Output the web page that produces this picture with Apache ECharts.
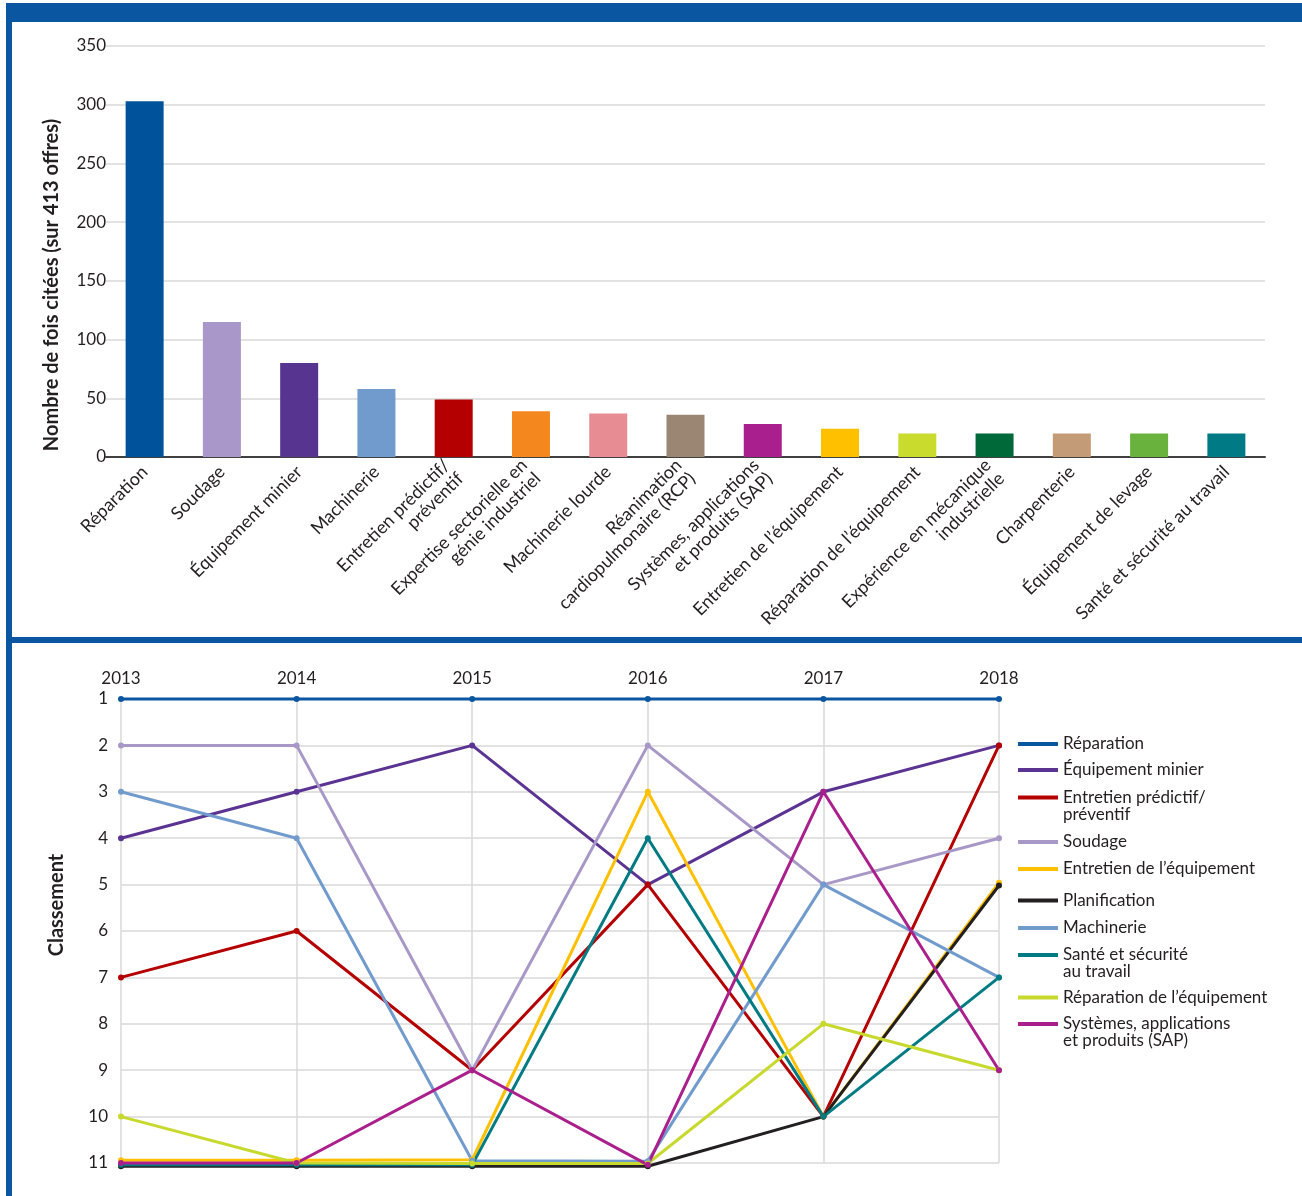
<!DOCTYPE html>
<html>
<head>
<meta charset="utf-8">
<script src="https://cdn.jsdelivr.net/npm/echarts@6/dist/echarts.min.js"></script>
<style>
  html, body { margin: 0; padding: 0; background: #ffffff; }
  #chart { width: 1302px; height: 1196px; }
</style>
</head>
<body>
<div id="chart"></div>
<script>
// Compétences les plus citées dans les offres (413 offres)
const skills = [
  'Réparation',
  'Soudage',
  'Équipement minier',
  'Machinerie',
  'Entretien prédictif/\npréventif',
  'Expertise sectorielle en\ngénie industriel',
  'Machinerie lourde',
  'Réanimation\ncardiopulmonaire (RCP)',
  'Systèmes, applications\net produits (SAP)',
  'Entretien de l’équipement',
  'Réparation de l’équipement',
  'Expérience en mécanique\nindustrielle',
  'Charpenterie',
  'Équipement de levage',
  'Santé et sécurité au travail'
];
const mentions = [303, 115, 80, 58, 49, 39, 37, 36, 28, 24, 20, 20, 20, 20, 20];
const skillColors = [
  '#00539b', '#a897c8', '#56348f', '#729bcd', '#b50000',
  '#f5871f', '#e88c94', '#9a8673', '#aa1f8e', '#ffc000',
  '#c9dc2e', '#00693a', '#c39b77', '#6ab23e', '#007b85'
];

// Classement annuel des compétences (11 = hors du palmarès)
const years = ['2013', '2014', '2015', '2016', '2017', '2018'];
const rankReparation      = [1, 1, 1, 1, 1, 1];
const rankEquipMinier     = [4, 3, 2, 5, 3, 2];
const rankEntretienPred   = [7, 6, 9, 5, 10, 2];
const rankSoudage         = [2, 2, 9, 2, 5, 4];
const rankEntretienEquip  = [10.94, 10.94, 10.93, 3, 10, 4.96];
const rankPlanification   = [11.07, 11.07, 11.07, 11.07, 10, 5.02];
const rankMachinerie      = [3, 4, 10.95, 10.96, 5, 7];
const rankSante           = [11.04, 11.04, 11.04, 4, 10, 7];
const rankReparationEquip = [10, 11.0, 11.01, 11.01, 8, 9];
const rankSAP             = [11.0, 11.0, 9, 11.04, 3, 9];

const rankSeries = [
  { name: 'Réparation', color: '#0a56a0', data: rankReparation, top: 735.5 },
  { name: 'Équipement minier', color: '#5b3393', data: rankEquipMinier, top: 761.5 },
  { name: 'Entretien prédictif/\npréventif', color: '#b50000', data: rankEntretienPred, top: 772, multi: true },
  { name: 'Soudage', color: '#a898c8', data: rankSoudage, top: 833.5 },
  { name: 'Entretien de l’équipement', color: '#ffc000', data: rankEntretienEquip, top: 860.5 },
  { name: 'Planification', color: '#231f20', data: rankPlanification, top: 892 },
  { name: 'Machinerie', color: '#729bcd', data: rankMachinerie, top: 919.5 },
  { name: 'Santé et sécurité\nau travail', color: '#007b83', data: rankSante, top: 929.5, multi: true },
  { name: 'Réparation de l’équipement', color: '#c8d92e', data: rankReparationEquip, top: 989 },
  { name: 'Systèmes, applications\net produits (SAP)', color: '#ab1f8c', data: rankSAP, top: 998.5, multi: true }
];

const FONT = 'Lato';
const TEXT = '#231f20';
const GRID_LINE = '#d9d9d9';
const FRAME = '#0a56a0';

const chart = echarts.init(document.getElementById('chart'), null, { renderer: 'canvas' });

const option = {
  backgroundColor: '#ffffff',
  animation: false,
  textStyle: { fontFamily: FONT, color: TEXT },
  graphic: [
    { type: 'rect', shape: { x: 6, y: 3, width: 1296, height: 19 }, style: { fill: FRAME }, silent: true },
    { type: 'rect', shape: { x: 6, y: 3, width: 6, height: 1193 }, style: { fill: FRAME }, silent: true },
    { type: 'rect', shape: { x: 6, y: 637, width: 1296, height: 6 }, style: { fill: FRAME }, silent: true }
  ],
  grid: [
    { left: 106, right: 37, top: 46, height: 411 },
    { left: 121, width: 878, top: 699, height: 464 }
  ],
  // one legend block per line so that two-line entries keep their swatch on the first line
  legend: rankSeries.map(s => ({
    left: 1018,
    top: s.top,
    orient: 'vertical',
    padding: 0,
    icon: 'rect',
    itemWidth: 40,
    itemHeight: 4,
    itemGap: 5,
    selectedMode: false,
    formatter: name => (s.multi ? '\n' + name : name),
    textStyle: { fontFamily: FONT, fontSize: 17, color: TEXT, lineHeight: 17 },
    data: [s.name]
  })),
  xAxis: [
    {
      gridIndex: 0,
      type: 'category',
      data: skills,
      axisLine: { lineStyle: { color: '#404040', width: 2 } },
      axisTick: { show: false },
      axisLabel: {
        interval: 0, rotate: 45, margin: 12,
        fontFamily: FONT, fontSize: 18, color: TEXT, lineHeight: 19
      }
    },
    {
      gridIndex: 1,
      type: 'category',
      position: 'top',
      boundaryGap: false,
      data: years,
      axisLine: { show: false },
      axisTick: { show: false },
      axisLabel: { margin: 12, fontFamily: FONT, fontSize: 17, color: TEXT },
      splitLine: { show: true, lineStyle: { color: GRID_LINE, width: 1.5 } }
    }
  ],
  yAxis: [
    {
      gridIndex: 0,
      type: 'value',
      min: 0, max: 350, interval: 50,
      name: 'Nombre de fois citées (sur 413 offres)',
      nameLocation: 'middle',
      nameGap: 44,
      nameTextStyle: { fontFamily: FONT, fontSize: 20, fontWeight: 'bold', color: TEXT, padding: [0, 67, 0, 0] },
      axisLine: { show: false },
      axisTick: { show: false },
      axisLabel: { margin: 0, fontFamily: FONT, fontSize: 17, color: TEXT },
      splitLine: { lineStyle: { color: GRID_LINE, width: 1.5 } }
    },
    {
      gridIndex: 1,
      type: 'value',
      inverse: true,
      min: 1, max: 11, interval: 1,
      name: 'Classement',
      nameLocation: 'middle',
      nameGap: 54,
      nameTextStyle: { fontFamily: FONT, fontSize: 20, fontWeight: 'bold', color: TEXT, padding: [0, 0, 0, 52] },
      axisLine: { show: false },
      axisTick: { show: false },
      axisLabel: { margin: 13, fontFamily: FONT, fontSize: 17, color: TEXT },
      splitLine: { lineStyle: { color: GRID_LINE, width: 1.5 } }
    }
  ],
  series: [
    {
      type: 'bar',
      xAxisIndex: 0,
      yAxisIndex: 0,
      barWidth: 38,
      data: mentions.map((v, i) => ({ value: v, itemStyle: { color: skillColors[i] } }))
    }
  ].concat(rankSeries.map(s => ({
    type: 'line',
    name: s.name,
    xAxisIndex: 1,
    yAxisIndex: 1,
    data: s.data,
    clip: false,
    color: s.color,
    symbol: 'circle',
    symbolSize: 6,
    lineStyle: { width: 3, color: s.color },
    itemStyle: { color: s.color }
  })))
};

chart.setOption(option);
</script>
</body>
</html>
